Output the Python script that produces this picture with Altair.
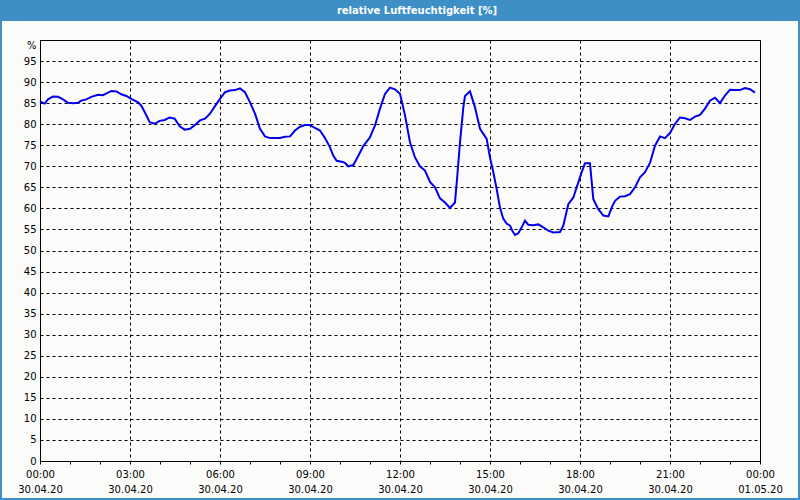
import altair as alt
import pandas as pd

# time of day (hours since 30.04.20 00:00) and relative humidity [%]
hours = [0.0, 0.156, 0.267, 0.433, 0.6, 0.767, 0.933, 1.1, 1.267, 1.378, 1.544, 1.711, 1.933, 2.1, 2.267,
         2.378, 2.544, 2.711, 2.878, 3.044, 3.267, 3.378, 3.489, 3.656, 3.822, 3.989, 4.156, 4.322, 4.489,
         4.656, 4.822, 5.0, 5.167, 5.333, 5.5, 5.667, 5.833, 6.0, 6.167, 6.333, 6.5, 6.667, 6.833, 7.0,
         7.167, 7.333, 7.5, 7.667, 7.833, 8.0, 8.167, 8.333, 8.5, 8.667, 8.833, 9.0, 9.167, 9.333, 9.5,
         9.667, 9.778, 9.889, 10.056, 10.167, 10.278, 10.444, 10.611, 10.778, 11.0, 11.167, 11.333, 11.5,
         11.667, 11.833, 12.0, 12.167, 12.333, 12.5, 12.667, 12.833, 13.0, 13.167, 13.333, 13.5, 13.667,
         13.833, 13.911, 14.0, 14.111, 14.167, 14.333, 14.5, 14.589, 14.667, 14.778, 14.889, 15.0, 15.111,
         15.222, 15.333, 15.444, 15.556, 15.667, 15.744, 15.833, 15.944, 16.056, 16.167, 16.278, 16.444,
         16.611, 16.778, 16.944, 17.111, 17.333, 17.444, 17.611, 17.778, 17.889, 18.056, 18.167, 18.333,
         18.444, 18.611, 18.778, 18.944, 19.056, 19.167, 19.333, 19.5, 19.667, 19.833, 20.0, 20.167,
         20.333, 20.5, 20.667, 20.833, 21.0, 21.167, 21.333, 21.5, 21.667, 21.833, 22.0, 22.167, 22.333,
         22.5, 22.667, 22.833, 23.0, 23.167, 23.333, 23.5, 23.667, 23.833]
rh = [85.4, 84.9, 85.9, 86.6, 86.5, 85.9, 85.1, 85.0, 85.1, 85.6, 85.9, 86.5, 87.0, 86.9, 87.5,
      87.9, 87.8, 87.1, 86.7, 86.0, 85.2, 84.4, 82.9, 80.5, 80.1, 80.8, 81.0, 81.6, 81.3,
      79.5, 78.7, 78.9, 79.8, 80.9, 81.3, 82.5, 84.3, 86.0, 87.6, 88.0, 88.1, 88.5, 87.6, 85.2,
      82.5, 78.9, 77.1, 76.7, 76.7, 76.7, 77.0, 77.1, 78.5, 79.4, 79.8, 79.8, 79.1, 78.5, 76.7,
      74.5, 72.5, 71.3, 71.1, 70.8, 70.0, 70.3, 72.5, 74.8, 76.9, 79.7, 83.7, 87.2,
      88.7, 88.3, 87.2, 82.1, 75.7, 72.1, 70.0, 69.0, 66.3, 65.0, 62.4, 61.4, 60.1,
      61.4, 67.8, 75.7, 84.0, 86.7, 87.8, 84.0, 81.3, 78.9, 77.7, 76.5, 72.1, 68.6,
      64.6, 60.2, 57.5, 56.4, 55.9, 54.7, 53.7, 54.1, 55.5, 57.1, 56.1, 56.0,
      56.2, 55.5, 54.7, 54.3, 54.4, 55.9, 61.0, 62.6, 65.0, 68.6, 70.7, 70.7,
      62.2, 59.8, 58.3, 58.1, 60.2, 61.8, 62.8, 62.9, 63.4, 65.0, 67.4, 68.6,
      70.8, 74.9, 77.1, 76.7, 77.9, 80.1, 81.6, 81.4, 81.0, 81.8, 82.2, 83.7, 85.6,
      86.3, 85.0, 86.8, 88.2, 88.1, 88.1, 88.6, 88.3, 87.5]

y_ticks = list(range(0, 101, 5))
x_tick_hours = list(range(0, 25))
title_text = "relative Luftfeuchtigkeit [%]"

FONT = "DejaVu Sans"
BLUE = "#3d8fc6"
BG = "#fbfcfa"

base = pd.Timestamp("2020-04-30 00:00")
df = pd.DataFrame({
    "t": [(base + pd.Timedelta(hours=h)).strftime("%Y-%m-%dT%H:%M:%S") for h in hours],
    "rh": rh,
})


def dt(h):
    ts = base + pd.Timedelta(hours=h)
    return alt.DateTime(year=ts.year, month=ts.month, date=ts.day, hours=ts.hour)


x_values = [dt(h) for h in x_tick_hours]

x_axis = alt.Axis(
    values=x_values,
    title=None,
    labelExpr="hours(datum.value) % 3 == 0 ? [timeFormat(datum.value, '%H:%M'), timeFormat(datum.value, '%d.%m.%y')] : ''",
    labelFont=FONT, labelFontSize=10, labelColor="black",
    labelPadding=5, labelLineHeight=15, labelOverlap=False, labelFlush=False, labelBound=False,
    tickSize=3, tickColor="black", domainColor="black",
    grid=True, gridColor="black", gridDash=[3, 3], gridWidth=1,
    gridOpacity={"condition": {"test": "hours(datum.value) % 3 != 0", "value": 0}, "value": 1},
)

y_axis = alt.Axis(
    values=y_ticks,
    title=None,
    labelExpr="datum.value == 100 ? '%' : datum.label",
    labelFont=FONT, labelFontSize=10, labelColor="black", labelPadding=4,
    labelBaseline={"condition": {"test": "datum.value == 100", "value": "top"}, "value": "middle"},
    labelOverlap=False, labelFlush=False,
    ticks=False, domainColor="black",
    grid=True, gridColor="black", gridDash=[3, 3], gridWidth=1,
)

line = alt.Chart(df).mark_line(color="#0000ee", strokeWidth=2).encode(
    x=alt.X("t:T", axis=x_axis, scale=alt.Scale(domain=[dt(0), dt(24)], nice=False)),
    y=alt.Y("rh:Q", axis=y_axis, scale=alt.Scale(domain=[0, 100], nice=False, zero=True)),
)

dummy = pd.DataFrame({"k": [0]})

title_bar = alt.Chart(dummy).mark_rect(color=BLUE).encode(
    x=alt.value(-40), x2=alt.value(760), y=alt.value(-40), y2=alt.value(-19)
)
border = alt.Chart(dummy).mark_rect(fillOpacity=0, stroke=BLUE, strokeWidth=2).encode(
    x=alt.value(-39), x2=alt.value(759), y=alt.value(-30), y2=alt.value(459)
)
title = alt.Chart(dummy).mark_text(
    color="white", font=FONT, fontSize=10, fontWeight="bold", align="center", baseline="middle"
).encode(x=alt.value(377), y=alt.value(-29.5), text=alt.value(title_text))

chart = alt.layer(title_bar, border, line, title).properties(
    width=720,
    height=421,
    autosize=alt.AutoSizeParams(type="none"),
    padding={"left": 40, "top": 40, "right": 40, "bottom": 39},
).configure(background=BG).configure_view(stroke="black", strokeWidth=1, fill=BG)

chart.save("out.html", embed_options={"renderer": "svg", "actions": False})
